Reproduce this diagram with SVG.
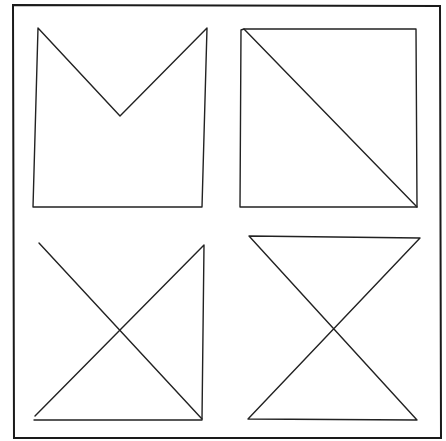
<svg xmlns="http://www.w3.org/2000/svg" width="446" height="441" viewBox="0 0 446 441">
<style>
.frame{fill:none;stroke:#1a1a1a;stroke-width:2}
.ln{fill:none;stroke:#222;stroke-width:1.4;stroke-linejoin:round;stroke-linecap:round}
</style>
<rect width="446" height="441" fill="#fff"/>
<polygon class="frame" points="13,5 440,6 441,438 14,438"/>
<g id="fig-m">
<polyline class="ln" points="38,28 120,116 207,28 202,207 33,207 38,28"/>
</g>
<g id="fig-square-diag">
<polygon class="ln" points="244,29 416,29 417,207 240,207 241,30"/>
<line class="ln" x1="244" y1="29" x2="417" y2="207"/>
</g>
<g id="fig-cross-triangle">
<line class="ln" x1="39" y1="243" x2="202" y2="419"/>
<polyline class="ln" points="35,416 204,245 202,419"/>
<line class="ln" x1="34" y1="420" x2="202" y2="420"/>
</g>
<g id="fig-hourglass">
<polygon class="ln" points="249,236 420,238 248,419 417,420"/>
</g>
</svg>
